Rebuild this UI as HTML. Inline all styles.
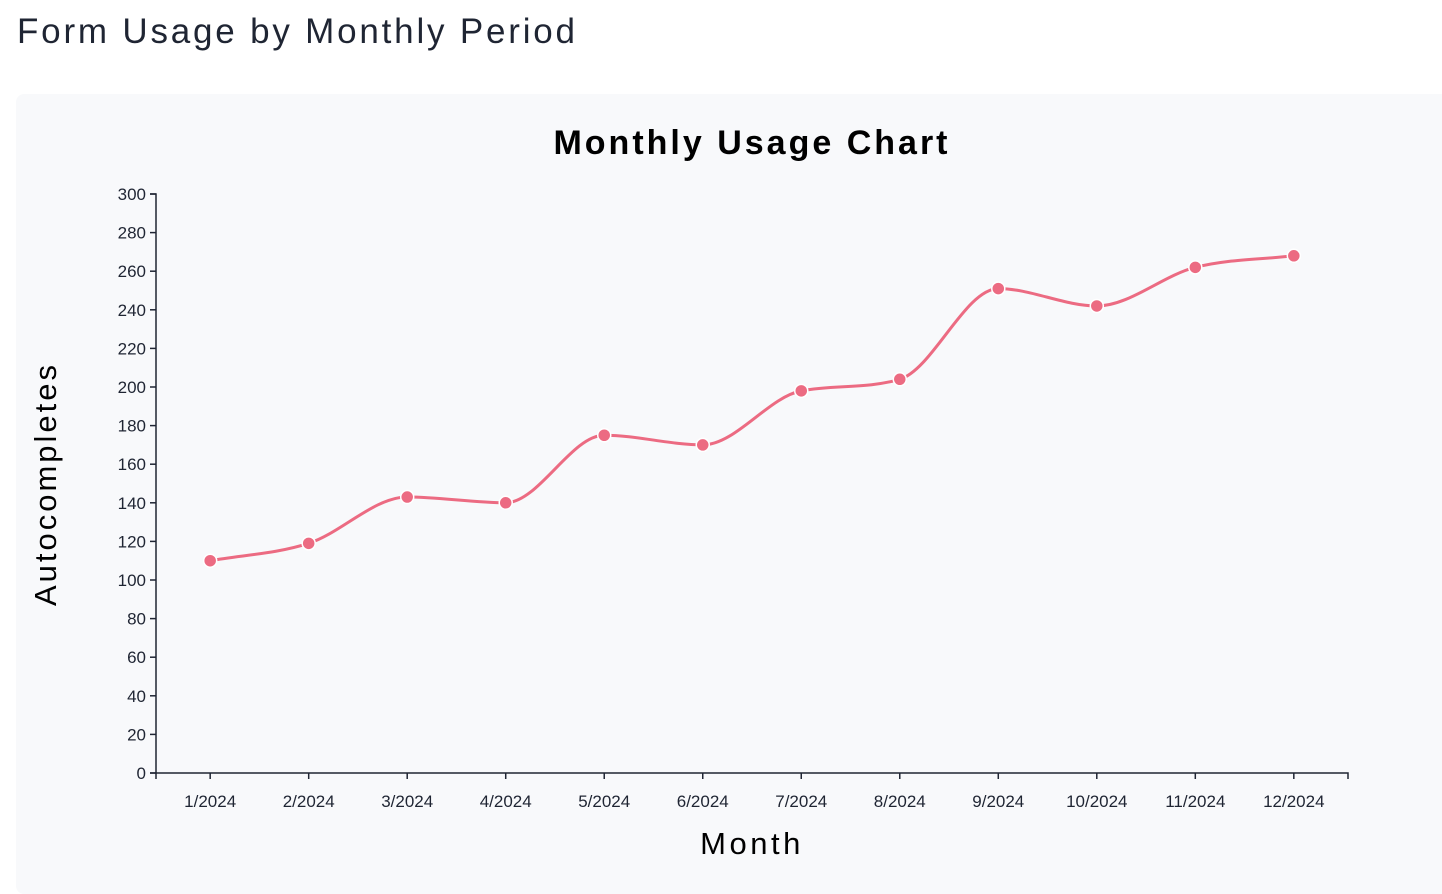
<!DOCTYPE html>
<html><head><meta charset="utf-8"><style>
body{margin:0;background:#fff;width:1442px;height:878px;overflow:hidden;font-family:"Liberation Sans",sans-serif;}
h1{position:absolute;left:17px;top:12px;margin:0;font-weight:normal;font-size:35px;letter-spacing:2.8px;color:#1f2533;}
#card{position:absolute;left:16px;top:94px;width:1440px;height:800px;background:#f8f9fb;border-radius:8px;}
svg{position:absolute;left:0;top:0;}
</style></head><body>
<h1>Form Usage by Monthly Period</h1>
<div id="card"></div>
<svg id="chart" width="1442" height="878"></svg>
<script>
const categories=["1/2024","2/2024","3/2024","4/2024","5/2024","6/2024","7/2024","8/2024","9/2024","10/2024","11/2024","12/2024"];
const values=[110,119,143,140,175,170,198,204,251,242,262,268];
const yTicks=[0,20,40,60,80,100,120,140,160,180,200,220,240,260,280,300];
const NS="http://www.w3.org/2000/svg";
const svg=document.getElementById('chart');
const x0=156,x1=1348,y0=773,y1=194,yMax=300;
const step=(x1-x0)/(categories.length-1+1.1);
const xs=i=>x0+step*0.55+i*step;
const ys=v=>y0-(v/yMax)*(y0-y1);
function el(t,a,txt){const e=document.createElementNS(NS,t);for(const k in a)e.setAttribute(k,a[k]);if(txt!=null)e.textContent=txt;svg.appendChild(e);return e;}
const title=el('text',{x:752,y:154,'text-anchor':'middle','font-size':34,'font-weight':'bold','letter-spacing':3,fill:'#000'},'Monthly Usage Chart');

const ya=el('path',{d:`M${x0-6},${y1}H${x0}V${y0}H${x0-6}`,fill:'none',stroke:'#1f2533','stroke-width':1.5});

yTicks.forEach(t=>{const y=ys(t);
el('line',{x1:x0-6,x2:x0,y1:y,y2:y,stroke:'#1f2533','stroke-width':1.5});
const l=el('text',{x:x0-10,y:y+6,'text-anchor':'end','font-size':17,fill:'#1f2533'},t);
});
const xa=el('path',{d:`M${x0},${y0+6}V${y0}H${x1}V${y0+6}`,fill:'none',stroke:'#1f2533','stroke-width':1.5});

categories.forEach((c,i)=>{const x=xs(i);
el('line',{x1:x,x2:x,y1:y0,y2:y0+6,stroke:'#1f2533','stroke-width':1.5});
const l=el('text',{x:x,y:y0+34,'text-anchor':'middle','font-size':17,fill:'#1f2533'},c);
});
const xt=el('text',{x:752,y:854,'text-anchor':'middle','font-size':31,'letter-spacing':3.5,fill:'#000'},'Month');

const yt=el('text',{transform:'translate(56,484) rotate(-90)','text-anchor':'middle','font-size':31,'letter-spacing':3,fill:'#000'},'Autocompletes');

const P=values.map((v,i)=>[xs(i),ys(v)]);const n=P.length;
const d=[],m=[];for(let i=0;i<n-1;i++)d.push((P[i+1][1]-P[i][1])/(P[i+1][0]-P[i][0]));
for(let i=0;i<n;i++){if(i===0)m.push(d[0]);else if(i===n-1)m.push(d[n-2]);else{m.push(d[i-1]*d[i]<=0?0:(d[i-1]+d[i])/2);}}
for(let i=0;i<n-1;i++){if(d[i]===0){m[i]=m[i+1]=0;continue;}const a=m[i]/d[i],b=m[i+1]/d[i],s=a*a+b*b;if(s>9){const t=3/Math.sqrt(s);m[i]=t*a*d[i];m[i+1]=t*b*d[i];}}
let path=`M${P[0][0]},${P[0][1]}`;
for(let i=0;i<n-1;i++){const h=(P[i+1][0]-P[i][0])/3;path+=`C${P[i][0]+h},${P[i][1]+m[i]*h} ${P[i+1][0]-h},${P[i+1][1]-m[i+1]*h} ${P[i+1][0]},${P[i+1][1]}`;}
const line=el('path',{d:path,fill:'none',stroke:'#ec6b82','stroke-width':3});

P.forEach(p=>{const c=el('circle',{cx:p[0],cy:p[1],r:6.5,fill:'#ec6b82',stroke:'#fff','stroke-width':1.5});
});
</script>
</body></html>
